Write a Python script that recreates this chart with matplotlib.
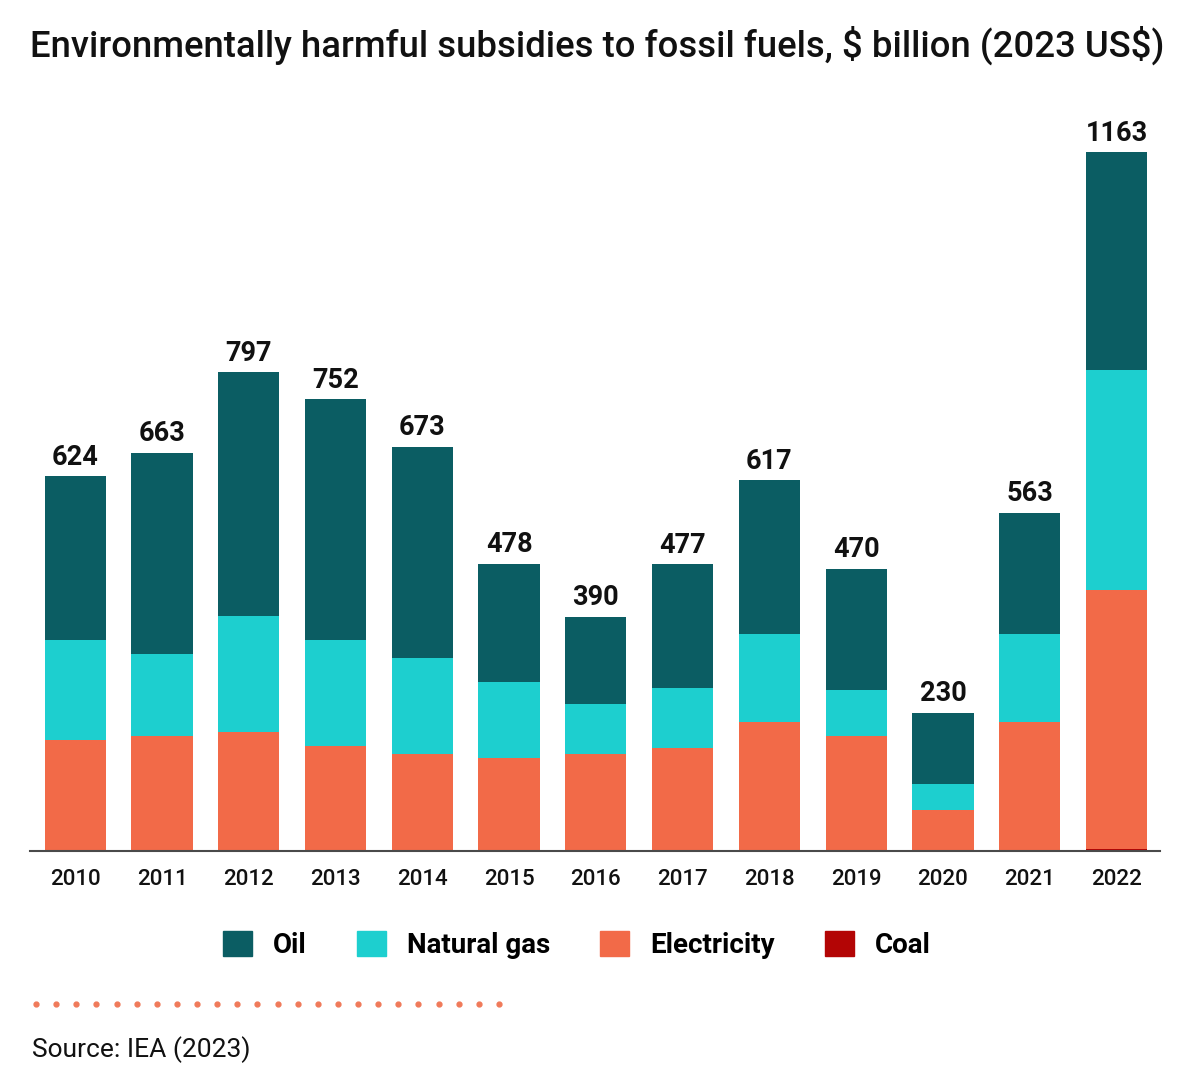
import numpy as np
import matplotlib.pyplot as plt
from matplotlib.lines import Line2D

plt.rcParams['font.family'] = ['Roboto', 'DejaVu Sans']

years = ['2010', '2011', '2012', '2013', '2014', '2015', '2016',
         '2017', '2018', '2019', '2020', '2021', '2022']
totals = [624, 663, 797, 752, 673, 478, 390, 477, 617, 470, 230, 563, 1163]
electricity = [185, 191, 198, 175, 161, 155, 161, 171, 215, 191, 68, 215, 431]
natural_gas = [166, 137, 193, 176, 160, 126, 84, 100, 146, 77, 43, 146, 366]
coal = [0, 0, 0, 0, 0, 0, 0, 0, 0, 0, 0, 0, 3]
# oil is what remains of the total
oil = [t - e - g - c for t, e, g, c in zip(totals, electricity, natural_gas, coal)]

c_oil = '#0b5d63'
c_gas = '#1dcfcf'
c_elec = '#f26a48'
c_coal = '#b30505'

fig = plt.figure(figsize=(12.02, 10.76), dpi=100)
ax = fig.add_axes([0.025, 0.2091, 0.94, 0.698])

x = np.arange(len(years))
w = 0.705
b = np.zeros(len(years))
ax.bar(x, coal, w, bottom=b, color=c_coal, label='Coal')
b += coal
ax.bar(x, electricity, w, bottom=b, color=c_elec, label='Electricity')
b += electricity
ax.bar(x, natural_gas, w, bottom=b, color=c_gas, label='Natural gas')
b += natural_gas
ax.bar(x, oil, w, bottom=b, color=c_oil, label='Oil')

for xi, t in zip(x, totals):
    ax.annotate(str(t), (xi, t), xytext=(0, 4), textcoords='offset points',
                ha='center', va='bottom', fontsize=19.5, fontweight='bold', color='#111111')

ax.set_xlim(-0.52, 12.5)
ax.set_ylim(0, 1250)
ax.set_xticks(x)
ax.set_xticklabels(years, fontsize=16, fontweight='medium', color='#111111')
ax.tick_params(axis='x', length=0, pad=13)
ax.set_yticks([])
for s in ['top', 'right', 'left']:
    ax.spines[s].set_visible(False)
ax.spines['bottom'].set_color('#4a4a4a')
ax.spines['bottom'].set_linewidth(1.5)

fig.text(0.025, 0.958, r'Environmentally harmful subsidies to fossil fuels, \$ billion (2023 US\$)',
         fontsize=26.3, fontweight='medium', color='#111111', va='center', ha='left')

handles = [plt.Rectangle((0, 0), 1, 1, color=c) for c in [c_oil, c_gas, c_elec, c_coal]]
fig.legend(handles, ['Oil', 'Natural gas', 'Electricity', 'Coal'], ncol=4,
           loc='center', bbox_to_anchor=(0.48, 0.122), frameon=False,
           prop={'size': 20, 'weight': 'bold'}, handlelength=1.05, handleheight=1.05,
           handletextpad=0.75, columnspacing=1.8)

dots_x = np.linspace(36, 499, 24) / 1202
fig.add_artist(Line2D(dots_x, np.full(24, 1 - 1004 / 1076), transform=fig.transFigure,
                      linestyle='none', marker='o', markersize=3.5, color='#f07a5a'))

fig.text(0.027, 1 - 1050 / 1076, 'Source: IEA (2023)', fontsize=19, color='#111111',
         va='center', ha='left')

fig.savefig('out.png', dpi=100, facecolor='white')
